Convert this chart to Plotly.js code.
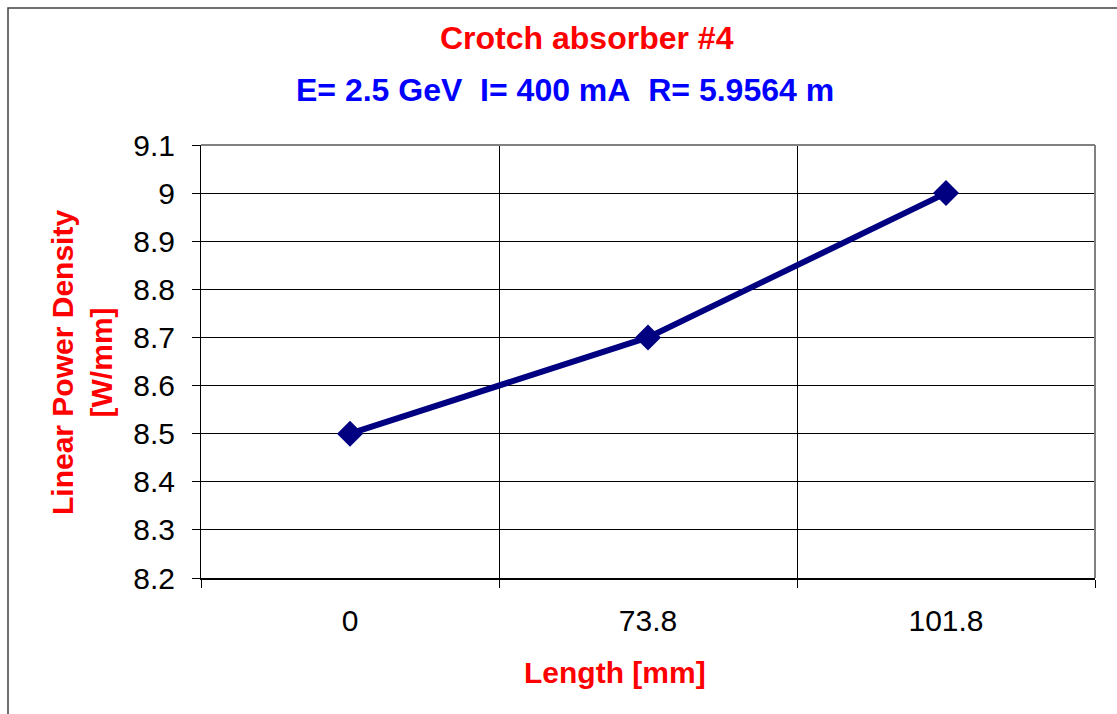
<!DOCTYPE html>
<html>
<head>
<meta charset="utf-8">
<script src="https://cdn.plot.ly/plotly-3.0.1.min.js"></script>
<style>html,body{margin:0;padding:0;background:#fff;}#chart{width:1117px;height:714px;}</style>
</head>
<body>
<div id="chart"></div>
<script>
const categories = ["0", "73.8", "101.8"];
const powerDensity = [8.5, 8.7, 9.0];
const titleText = "Crotch absorber #4";
const subtitleText = "E= 2.5 GeV\u00A0\u00A0I= 400 mA\u00A0\u00A0R= 5.9564 m";
const xTitle = "Length [mm]";
const yTitle = "Linear Power Density<br>[W/mm]";

const W = 1117, H = 714;
const L = 201, R = 1095, T = 145, B = 578;
const px = x => (x - L) / (R - L);
const py = y => (B - y) / (B - T);
const font = "Liberation Sans, Arial, sans-serif";

const trace = {
  x: categories,
  y: powerDensity,
  type: "scatter",
  mode: "lines+markers",
  line: {color: "#000080", width: 6},
  marker: {symbol: "diamond", size: 20, color: "#000080"},
  hoverinfo: "x+y"
};

const layout = {
  width: W, height: H,
  margin: {l: L, r: W - R, t: T, b: H - B, pad: 0},
  paper_bgcolor: "#fff",
  plot_bgcolor: "#fff",
  showlegend: false,
  xaxis: {
    type: "category",
    range: [-0.5, 2.5],
    tickson: "boundaries",
    ticks: "outside",
    ticklen: 8,
    tickcolor: "#000",
    showgrid: true,
    gridcolor: "#000",
    gridwidth: 1,
    showline: true,
    linecolor: "#000",
    linewidth: 2,
    zeroline: false,
    ticklabelstandoff: 15,
    tickfont: {family: font, size: 30, color: "#000"},
    fixedrange: true
  },
  yaxis: {
    range: [8.2, 9.1],
    dtick: 0.1,
    tick0: 8.2,
    ticks: "outside",
    ticklen: 8,
    tickcolor: "#000",
    showgrid: true,
    gridcolor: "#000",
    gridwidth: 1,
    showline: true,
    linecolor: "#000",
    linewidth: 1,
    zeroline: false,
    ticklabelstandoff: 11,
    tickfont: {family: font, size: 30, color: "#000"},
    fixedrange: true
  },
  shapes: [
    {type: "line", xref: "paper", yref: "paper", x0: 0, x1: 1, y0: 1, y1: 1,
     line: {color: "#808080", width: 2}},
    {type: "line", xref: "paper", yref: "paper", x0: 1, x1: 1, y0: 0, y1: 1,
     line: {color: "#808080", width: 2}},
    {type: "rect", xref: "paper", yref: "paper", x0: px(8), x1: px(1200), y0: py(800), y1: py(8),
     line: {color: "#404040", width: 1.5}, layer: "below"}
  ],
  annotations: [
    {text: titleText, xref: "paper", yref: "paper", x: px(587), y: py(38), showarrow: false,
     xanchor: "center", yanchor: "middle", font: {family: font, size: 32, color: "#ff0000", weight: "bold"}},
    {text: subtitleText, xref: "paper", yref: "paper", x: px(565), y: py(90), showarrow: false,
     xanchor: "center", yanchor: "middle", font: {family: font, size: 32, color: "#0000ff", weight: "bold"}},
    {text: xTitle, xref: "paper", yref: "paper", x: px(615), y: py(672), showarrow: false,
     xanchor: "center", yanchor: "middle", font: {family: font, size: 30, color: "#ff0000", weight: "bold"}},
    {text: yTitle, xref: "paper", yref: "paper", x: px(82), y: py(362), showarrow: false,
     textangle: -90, xanchor: "center", yanchor: "middle", font: {family: font, size: 30, color: "#ff0000", weight: "bold"}}
  ]
};

Plotly.newPlot("chart", [trace], layout, {displayModeBar: false, staticPlot: true});
</script>
</body>
</html>
